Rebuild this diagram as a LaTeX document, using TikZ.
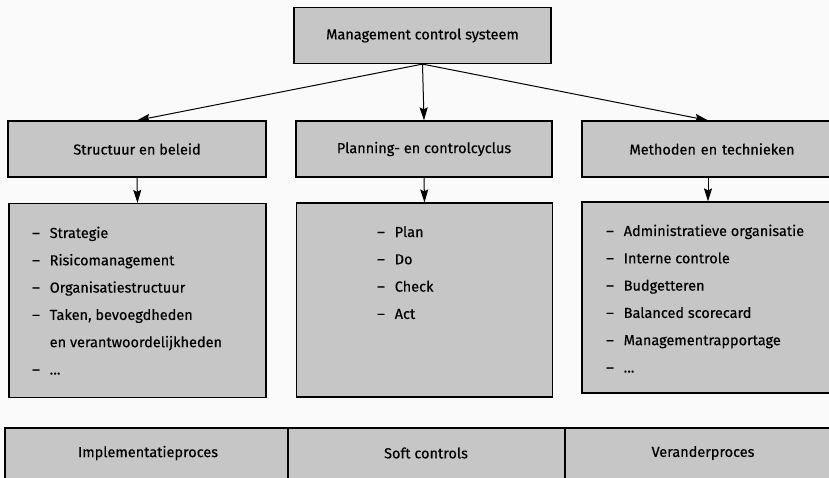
\documentclass[tikz,border=0pt]{standalone}
\usepackage{fontspec}
\setmainfont{Fira Sans}[FakeBold=0.4]
\usetikzlibrary{positioning, arrows.meta}
\definecolor{boxgray}{RGB}{198,198,198}
\definecolor{paper}{RGB}{250,250,250}

\begin{document}
\begin{tikzpicture}[x=1pt, y=-1pt,
  headbox/.style={draw, line width=1.2pt, fill=boxgray, inner sep=0pt,
                  minimum height=56pt, font=\fontsize{14.5}{16}\selectfont},
  listbox/.style={draw, line width=1.2pt, fill=boxgray, inner sep=0pt},
  listtext/.style={anchor=base west, inner sep=0pt, align=left,
                   font=\fontsize{14.5}{27.3}\selectfont},
  cellbox/.style={draw, line width=1.2pt, fill=boxgray, inner sep=0pt,
                  minimum height=54pt},
  celltext/.style={font=\fontsize{14.5}{16}\selectfont},
  arr/.style={-{Stealth[length=13pt, width=8pt, inset=2pt]}, line width=1pt}
]
  \clip (0,0) rectangle (829,478);
  \fill[paper] (0,0) rectangle (829,478);

  % top
  \node[headbox, minimum width=257pt] (mcs) at (422.5,35.5) {Management control systeem};

  % middle row
  \node[headbox, minimum width=258pt] (structuur) at (137,149) {Structuur en beleid};
  \node[headbox, minimum width=256pt] (planning) at (424,149) {Planning- en controlcyclus};
  \node[headbox, minimum width=260pt, text width=236pt, align=center] (methoden) at (712,149) {Methoden en technieken};

  % lists
  \node[listbox, minimum width=257pt, minimum height=194pt] (lijst1) at (137.5,300.5) {};
  \node[listbox, minimum width=256pt, minimum height=194pt] (lijst2) at (424.5,300) {};
  \node[listbox, minimum width=260pt, minimum height=191pt] (lijst3) at (712,297.5) {};

  \node[listtext] (items1) at (32,238) {\begin{tabular}[t]{@{}l@{\hspace{10pt}}l@{}}
    -- & Strategie\\
    -- & Risicomanagement\\
    -- & Organisatiestructuur\\
    -- & Taken, bevoegdheden\\
       & en verantwoordelijkheden\\
    -- & \dots
  \end{tabular}};
  \node[listtext] (items2) at (377,237) {\begin{tabular}[t]{@{}l@{\hspace{10pt}}l@{}}
    -- & Plan\\
    -- & Do\\
    -- & Check\\
    -- & Act
  \end{tabular}};
  \node[listtext] (items3) at (606,236) {\begin{tabular}[t]{@{}l@{\hspace{10pt}}l@{}}
    -- & Administratieve organisatie\\
    -- & Interne controle\\
    -- & Budgetteren\\
    -- & Balanced scorecard\\
    -- & Managementrapportage\\
    -- & \dots
  \end{tabular}};

  % bottom row
  \node[cellbox, minimum width=283pt] (implementatie) at (146.5,455) {};
  \node[cellbox, minimum width=277pt] (soft) at (426.5,455) {};
  \node[cellbox, minimum width=280pt] (verander) at (705,455) {};
  \node[celltext] (implementatietekst) at (148,453) {Implementatieproces};
  \node[celltext] (softtekst) at (426,453) {Soft controls};
  \node[celltext] (verandertekst) at (703,453) {Veranderproces};

  % connectors
  \draw[arr] (mcs.south) -- (structuur.north);
  \draw[arr] (mcs.south) -- (planning.north);
  \draw[arr] (mcs.south) -- ([xshift=-4pt]methoden.north);
  \draw[arr] (structuur.south) -- (lijst1.north);
  \draw[arr] (planning.south) -- (lijst2.north);
  \draw[arr] ([xshift=-4pt]methoden.south) -- ([xshift=-4pt]lijst3.north);
\end{tikzpicture}
\end{document}
